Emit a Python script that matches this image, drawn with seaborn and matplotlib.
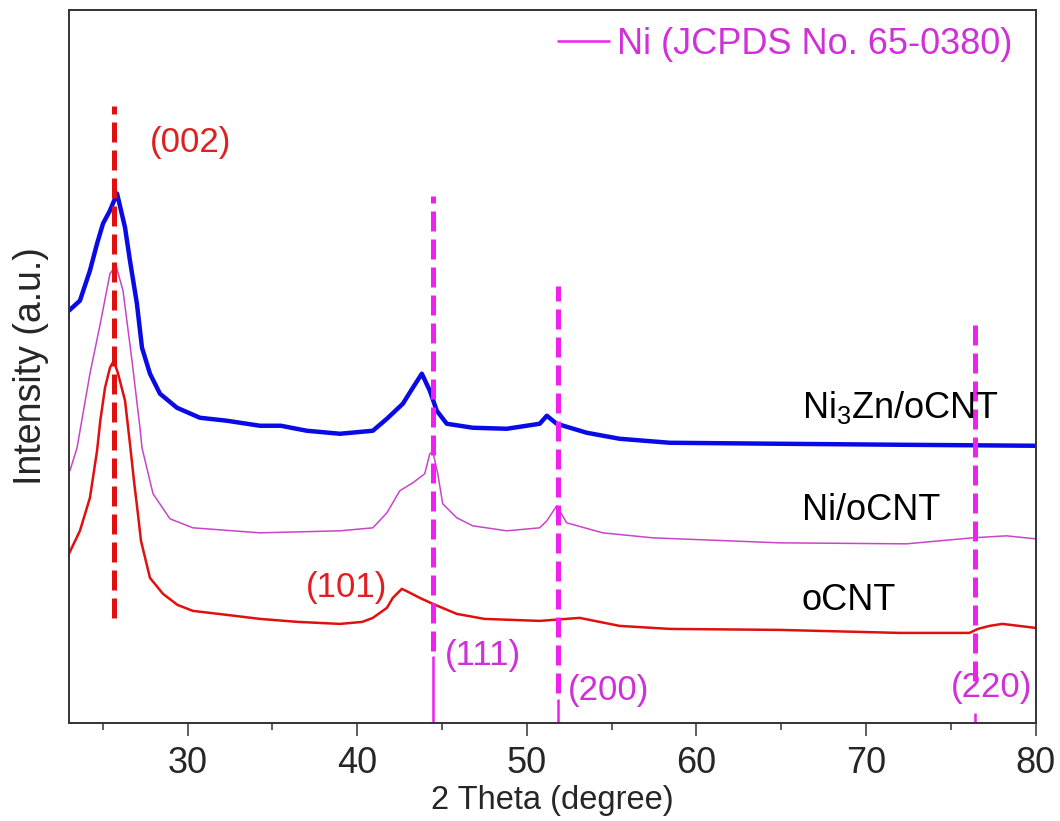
import matplotlib
matplotlib.use("Agg")
import matplotlib.pyplot as plt
import seaborn as sns
import pandas as pd

# ---------------- data ----------------
ocnt_x = [23.00, 23.65, 24.24, 24.66, 24.85, 25.13, 25.42, 25.65, 25.90, 26.31, 26.60,
          26.85, 27.07, 27.25, 27.78, 28.55, 29.40, 30.31, 32.32, 34.26, 36.50, 38.98,
          40.30, 40.92, 41.75, 42.10, 42.63, 43.00, 43.69, 44.46, 45.87, 47.50, 50.76,
          53.12, 55.47, 58.42, 64.90, 71.97, 76.10, 76.60, 77.28, 78.04, 80.00]
ocnt_y = [169, 192, 225, 272, 302, 335, 355, 362, 349, 322, 279,
          240, 209, 182, 145, 129, 118, 112, 108, 104, 101, 99,
          101, 105, 115, 125, 134, 131, 125, 119, 109, 104, 102,
          105, 97, 94, 93, 90, 90, 94, 97, 99, 95]

ni_x = [23.06, 23.48, 24.24, 24.85, 25.42, 25.78, 26.19, 26.72, 27.19, 27.31, 27.96,
        28.96, 30.31, 34.26, 38.98, 40.92, 41.75, 42.51, 43.28, 43.98, 44.28, 44.46,
        44.75, 45.04, 45.87, 46.81, 48.82, 50.76, 51.18, 51.76, 52.35, 54.47, 57.42,
        64.90, 72.38, 76.28, 78.28, 80.00]
ni_y = [252, 275, 349, 399, 449, 457, 432, 362, 295, 275, 229,
        204, 195, 190, 192, 195, 210, 232, 240, 249, 269, 271,
        249, 219, 205, 197, 192, 195, 202, 217, 200, 190, 185,
        180, 179, 185, 187, 184]

ni3zn_x = [23.00, 23.65, 24.24, 24.66, 25.01, 25.42, 25.84, 26.31, 26.60, 27.01, 27.31,
           27.78, 28.37, 29.37, 30.72, 32.32, 34.26, 35.50, 37.03, 38.98, 40.92, 41.75,
           42.69, 43.28, 43.81, 44.28, 44.69, 45.28, 46.81, 48.82, 50.76, 51.18, 51.76,
           53.53, 55.47, 58.42, 64.90, 72.00, 80.00]
ni3zn_y = [412, 422, 452, 479, 499, 512, 529, 495, 462, 419, 375,
           349, 329, 315, 305, 302, 297, 297, 292, 289, 292, 304,
           319, 335, 349, 332, 312, 299, 295, 294, 299, 307, 299,
           290, 284, 280, 279, 278, 277]

samples = ["oCNT", "Ni/oCNT", "Ni$_3$Zn/oCNT"]

# carbon (002) reference line
c002_pos = 25.66
c002_range = (105, 617)

# Ni reference (JCPDS No. 65-0380)
ni_ref_pos = [44.44, 51.85, 76.40]
ni_ref_labels = ["(111)", "(200)", "(220)"]
ni_stick_height = [67, 24, 10]
ni_dash_low = [72, 30, 42]
ni_dash_high = [527, 437, 404]

x_ticks = [30, 40, 50, 60, 70, 80]
x_minor = [25, 35, 45, 55, 65, 75]

# ---------------- styling ----------------
sns.set_style("ticks")
plt.rcParams["font.family"] = ["Liberation Sans", "DejaVu Sans"]
plt.rcParams["mathtext.fontset"] = "custom"
plt.rcParams["mathtext.rm"] = "Liberation Sans"
plt.rcParams["mathtext.it"] = "Liberation Sans"

RED = "#e01010"
MAG_CURVE = "#c845c8"
BLUE = "#0a0ae6"
MAG = "#f020f0"
MAG_TXT = "#d030d8"
RED_TXT = "#e02020"

df = pd.concat([
    pd.DataFrame({"theta": ocnt_x, "I": ocnt_y, "sample": samples[0]}),
    pd.DataFrame({"theta": ni_x, "I": ni_y, "sample": samples[1]}),
    pd.DataFrame({"theta": ni3zn_x, "I": ni3zn_y, "sample": samples[2]}),
], ignore_index=True)

fig = plt.figure(figsize=(10.6, 8.21), dpi=100)
ax = fig.add_axes([0.065, 0.1194, 0.912, 0.8685])

palette = {samples[0]: RED, samples[1]: MAG_CURVE, samples[2]: BLUE}
sizes = {samples[0]: 1.8, samples[1]: 1.1, samples[2]: 3.2}
for s in samples:
    sub = df[df["sample"] == s]
    sns.lineplot(data=sub, x="theta", y="I", color=palette[s], lw=sizes[s],
                 sort=False, estimator=None, ax=ax, legend=False)

# reference dashed lines
ax.vlines(c002_pos, *c002_range, colors=RED, lw=3.6, linestyles=(0, (4, 1.6)))
for p, lo, hi in zip(ni_ref_pos, ni_dash_low, ni_dash_high):
    ax.vlines(p, lo, hi, colors=MAG, lw=3.6, linestyles=(0, (4, 1.6)))

# Ni sticks
ax.vlines(ni_ref_pos, 0, ni_stick_height, colors=MAG, lw=1.8,
          label="Ni (JCPDS No. 65-0380)")

# labels
fs = 25
ax.text(27.78, 580, "(002)", color=RED_TXT, fontsize=fs, va="center", ha="left")
ax.text(41.75, 135, "(101)", color=RED_TXT, fontsize=fs, va="center", ha="right")
ax.text(45.17, 67, ni_ref_labels[0], color=MAG_TXT, fontsize=fs, va="center", ha="left")
ax.text(52.41, 32, ni_ref_labels[1], color=MAG_TXT, fontsize=fs, va="center", ha="left")
ax.text(79.82, 35, ni_ref_labels[2], color=MAG_TXT, fontsize=fs, va="center", ha="right")

sfs = 26
ax.text(66.2, 315, samples[2], color="black", fontsize=sfs, va="center", ha="left")
ax.text(66.2, 212, samples[1], color="black", fontsize=sfs, va="center", ha="left")
ax.text(66.2, 122, samples[0], color="black", fontsize=sfs, va="center", ha="left")

leg = ax.legend(loc="center left", bbox_to_anchor=(0.505, 0.952), frameon=False,
                fontsize=26, handlelength=1.47, handletextpad=0.2,
                borderpad=0, borderaxespad=0)
for t in leg.get_texts():
    t.set_color(MAG_TXT)

ax.set_xlim(23, 80)
ax.set_ylim(0, 712.5)
ax.set_xticks(x_ticks)
ax.set_xticks(x_minor, minor=True)
ax.set_yticks([])
ax.tick_params(axis="x", which="major", length=9.5, width=1.1, direction="out",
               labelsize=26, pad=7, color="#333333")
ax.tick_params(axis="x", which="minor", length=5, width=1.1, direction="out",
               color="#333333")
for sp in ax.spines.values():
    sp.set_visible(True)
    sp.set_linewidth(1.4)
    sp.set_color("#333333")

ax.set_xlabel("2 Theta (degree)", fontsize=23.5, labelpad=3)
ax.set_ylabel("Intensity (a.u.)", fontsize=27, labelpad=14)

fig.savefig("out.png", dpi=100)
